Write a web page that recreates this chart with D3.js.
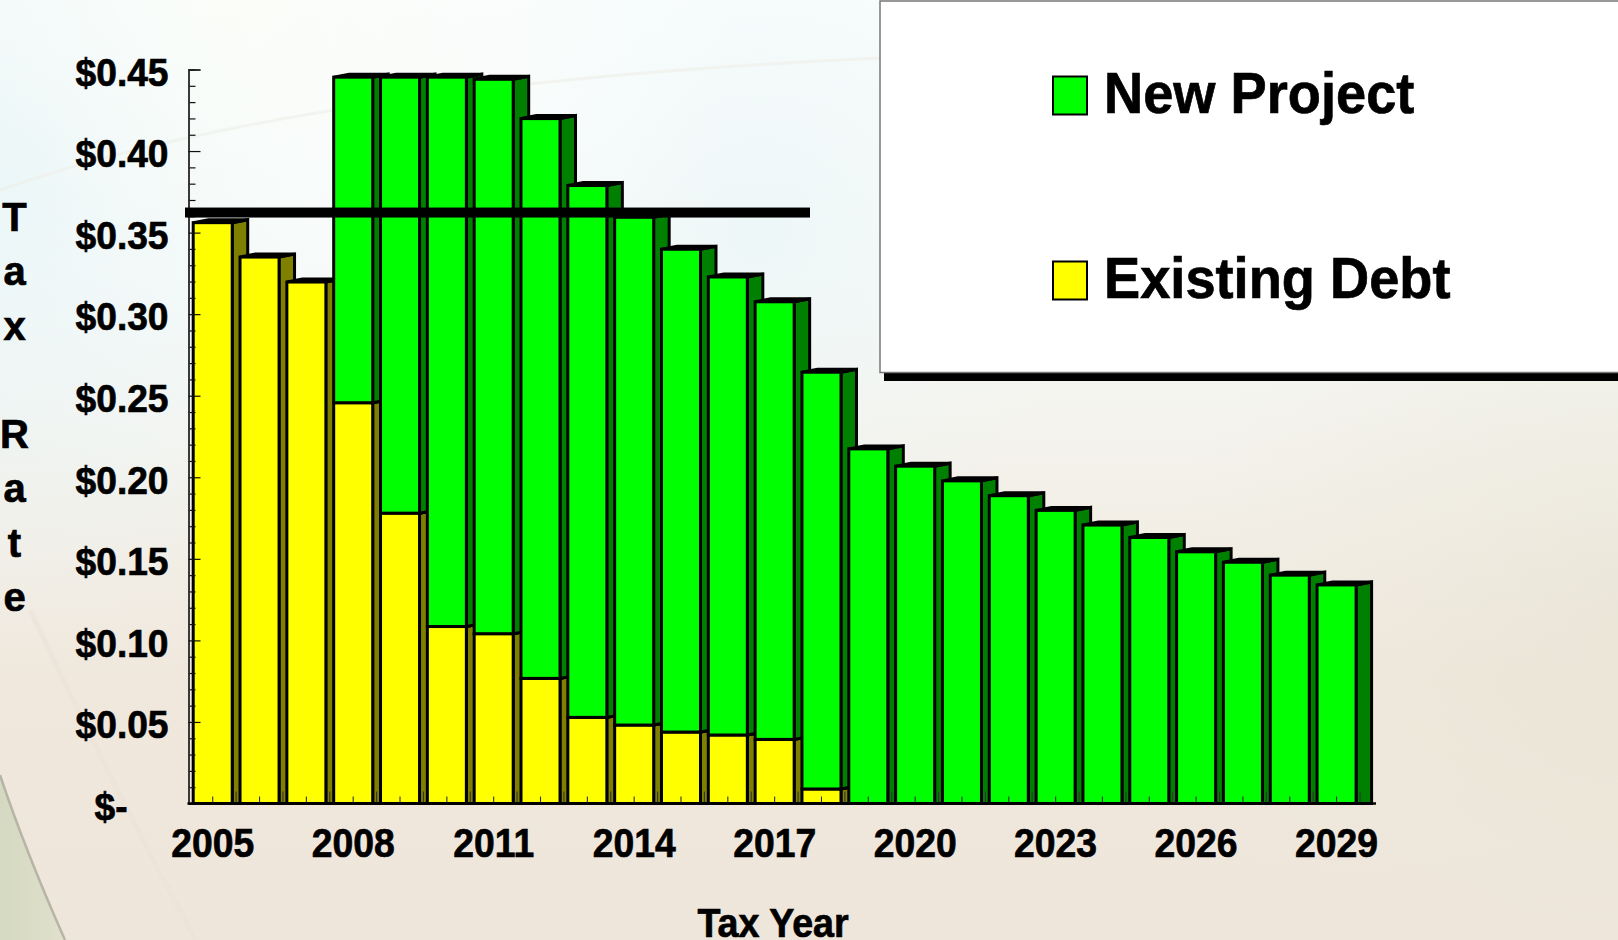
<!DOCTYPE html>
<html><head><meta charset="utf-8">
<script src="https://cdn.jsdelivr.net/npm/d3@7"></script>
<style>
html,body{margin:0;padding:0;background:#f0e8dc;overflow:hidden}
svg{display:block}
text{font-family:"Liberation Sans",Arial,sans-serif;font-weight:700;fill:#000;stroke:#000;stroke-width:.7px}
</style></head><body>
<svg id="c" width="1618" height="940"></svg>
<script>
const years = d3.range(2005, 2030);
const existingDebt = [.3561,.335,.3197,.2457,.178,.1085,.1041,.0767,.0528,.0481,.0438,.042,.0393,.0089,0,0,0,0,0,0,0,0,0,0,0];
const newProject = [0,0,0,.1996,.2673,.3368,.3399,.3432,.3261,.3113,.296,.2808,.2683,.2555,.2174,.2068,.1978,.1887,.1797,.1707,.1631,.1543,.1479,.14,.134];
const xTickYears = [2005,2008,2011,2014,2017,2020,2023,2026,2029];
const yMajorTicks = [0,.05,.1,.15,.2,.25,.3,.35,.4,.45];
const yMinorTicks = d3.range(1,46).map(d=>d/100).filter(d=>Math.round(d*100)%5!==0);
const referenceRate = .3623;
const yLabelLetters = ["T","a","x","","R","a","t","e"];
const legendItems = ["New Project","Existing Debt"];
const colors = {"New Project":["#00ff00","#008000"],"Existing Debt":["#ffff00","#808000"]};

const svg = d3.select("#c"), W=1618, H=940;
const defs = svg.append("defs");
function lin(id,x1,y1,x2,y2,stops){const g=defs.append("linearGradient").attr("id",id).attr("x1",x1).attr("y1",y1).attr("x2",x2).attr("y2",y2);
 stops.forEach(s=>g.append("stop").attr("offset",s[0]).attr("stop-color",s[1]).attr("stop-opacity",s[2]===undefined?1:s[2]));}
function rad(id,cx,cy,r,stops){const g=defs.append("radialGradient").attr("id",id).attr("gradientUnits","userSpaceOnUse").attr("cx",cx).attr("cy",cy).attr("r",r);
 stops.forEach(s=>g.append("stop").attr("offset",s[0]).attr("stop-color",s[1]).attr("stop-opacity",s[2]));}
lin("bg",0,0,0,1,[[0,"#f8fcfc"],[.3,"#f6f9f7"],[.5,"#f3f1ea"],[.72,"#f0e8dd"],[1,"#efe6db"]]);
rad("blue",0,170,480,[[0,"#dcf0f5",.75],[.6,"#e8f5f8",.35],[1,"#eef8fa",0]]);
rad("blue2",760,230,340,[[0,"#e8f6f8",.6],[1,"#eef8fa",0]]);
rad("rt",1618,620,460,[[0,"#e6e3d3",.6],[1,"#eeeadc",0]]);
rad("top",240,0,520,[[0,"#fffff8",.7],[1,"#ffffff",0]]);
lin("corner",0,0,1,0,[[0,"#d5d9c1"],[1,"#e0e0cc"]]);
svg.append("rect").attr("width",W).attr("height",H).attr("fill","url(#bg)");
["blue","blue2","rt","top"].forEach(id=>svg.append("rect").attr("width",W).attr("height",H).attr("fill",`url(#${id})`));
svg.append("path").attr("d","M0,190 Q300,85 880,58").attr("fill","none").attr("stroke","#eeeee8").attr("stroke-width",3).attr("opacity",.6);
svg.append("path").attr("d","M30,610 Q110,780 195,940").attr("fill","none").attr("stroke","#e8e0d6").attr("stroke-width",5).attr("opacity",.45);
svg.append("path").attr("d","M0,775 Q25,850 65,940 L0,940 Z").attr("fill","url(#corner)");
svg.append("path").attr("d","M0,775 Q25,850 65,940").attr("fill","none").attr("stroke","#b7b5a6").attr("stroke-width",2.5);

const yBase = 803.5, yTop = 69.5, dx = 15.5, dy = 3;
const x = d3.scaleBand().domain(years).range([189.3,1360]).paddingInner(.167).paddingOuter(.0835);
const y = d3.scaleLinear().domain([0,.45]).range([yBase,yTop]);
const bw = x.bandwidth();

const rows = years.map((yr,i)=>({yr,segs:[
  {name:"Existing Debt",v0:0,v1:existingDebt[i]},
  {name:"New Project",v0:existingDebt[i],v1:existingDebt[i]+newProject[i]}
].filter(s=>s.v1>s.v0)}));

const bars = svg.append("g").selectAll("g").data(rows).join("g");
const segs = bars.selectAll("g").data(d=>d.segs.map(s=>({...s,yr:d.yr}))).join("g")
  .attr("stroke","#000").attr("stroke-width",3).attr("stroke-linejoin","miter");
segs.append("path").attr("fill",d=>colors[d.name][1]).attr("d",d=>{
  const l=x(d.yr)+bw,t=y(d.v1),b=y(d.v0);
  return `M${l},${t}L${l+dx},${t-dy}L${l+dx},${d.v0===0?b:b-dy}L${l},${b}Z`;});
segs.append("path").attr("fill","#000").attr("d",d=>{
  const l=x(d.yr),t=y(d.v1);
  return `M${l},${t}L${l+dx},${t-dy}L${l+bw+dx},${t-dy}L${l+bw},${t}Z`;});
segs.append("rect").attr("x",d=>x(d.yr)).attr("y",d=>y(d.v1)).attr("width",bw)
  .attr("height",d=>y(d.v0)-y(d.v1)).attr("fill",d=>colors[d.name][0]);

// Condense text like the reference
function squeeze(sel,f){sel.each(function(){const n=this.getComputedTextLength();
  d3.select(this).attr("textLength",n*f).attr("lengthAdjust","spacingAndGlyphs");});}

// Y axis
const axisX = 188.5;
const gy = svg.append("g").attr("transform",`translate(${axisX},0)`);
const minor = gy.append("g").call(d3.axisRight(y).tickValues(yMinorTicks).tickSize(7).tickFormat(""));
const major = gy.append("g").call(d3.axisRight(y).tickValues(yMajorTicks).tickSize(12).tickFormat(""));
[minor,major].forEach(g=>{g.selectAll(".domain").attr("stroke","#333").attr("stroke-width",1.6);
  g.selectAll(".tick line").attr("stroke","#111").attr("stroke-width",1.2);});
const fmtY = d=>d===0?"$-":"$"+d.toFixed(2);
const labY = gy.append("g").call(d3.axisLeft(y).tickValues(yMajorTicks).tickSize(0).tickFormat(fmtY).tickPadding(20));
labY.select(".domain").remove();
labY.selectAll("text").attr("font-size",39.5).attr("dy","0.40em").attr("dx",d=>d===0?-41:0).call(squeeze,.94);

// X axis
const gx = svg.append("g").attr("transform",`translate(0,${yBase})`);
const tc = gx.append("g").call(d3.axisTop(x).tickValues(years).tickSize(7).tickFormat(""));
tc.selectAll(".tick line").attr("stroke","#333").attr("stroke-width",1.1);
tc.select(".domain").remove();
gx.selectAll("line.boundary").data(years).join("line").attr("class","boundary")
  .attr("x1",d=>x(d)+x.step()-x.step()*x.paddingInner()/2).attr("x2",d=>x(d)+x.step()-x.step()*x.paddingInner()/2)
  .attr("y1",0).attr("y2",-12).attr("stroke","#333").attr("stroke-width",1.1);
gx.append("line").attr("x1",axisX-1).attr("x2",1376).attr("stroke","#000").attr("stroke-width",2.6);
const labX = gx.append("g").call(d3.axisBottom(x).tickValues(xTickYears).tickSize(0).tickPadding(24).tickFormat(d3.format("d")));
labX.select(".domain").remove();
labX.selectAll("text").attr("font-size",41).attr("dy","0.71em").call(squeeze,.91);

// Titles
svg.append("text").attr("x",773).attr("y",936.5).attr("text-anchor","middle").attr("font-size",40).text("Tax Year").call(squeeze,.94);
const yLab = d3.scalePoint().domain(d3.range(yLabelLetters.length)).range([231,611]);
svg.append("g").selectAll("text").data(yLabelLetters).join("text").attr("x",14.5).attr("y",(d,i)=>yLab(i))
  .attr("text-anchor","middle").attr("font-size",40).text(d=>d);

// Reference line
svg.append("rect").attr("x",185).attr("y",y(referenceRate)-5).attr("width",625).attr("height",10).attr("fill","#000");

// Legend
const lg = svg.append("g");
lg.append("rect").attr("x",884).attr("y",10).attr("width",W-884+2).attr("height",371).attr("fill","#000");
lg.append("rect").attr("x",880).attr("y",1).attr("width",W-880+2).attr("height",371.5).attr("fill","#fff").attr("stroke","#777").attr("stroke-width",1.5);
const ly = d3.scalePoint().domain(legendItems).range([0,185]);
const li = lg.selectAll("g.it").data(legendItems).join("g").attr("class","it").attr("transform",d=>`translate(0,${ly(d)})`);
li.append("rect").attr("x",1053).attr("y",76.5).attr("width",34).attr("height",38).attr("fill",d=>colors[d][0]).attr("stroke","#000").attr("stroke-width",2);
li.append("text").attr("x",1104).attr("y",113).attr("font-size",58).text(d=>d).call(squeeze,.935);
</script></body></html>
